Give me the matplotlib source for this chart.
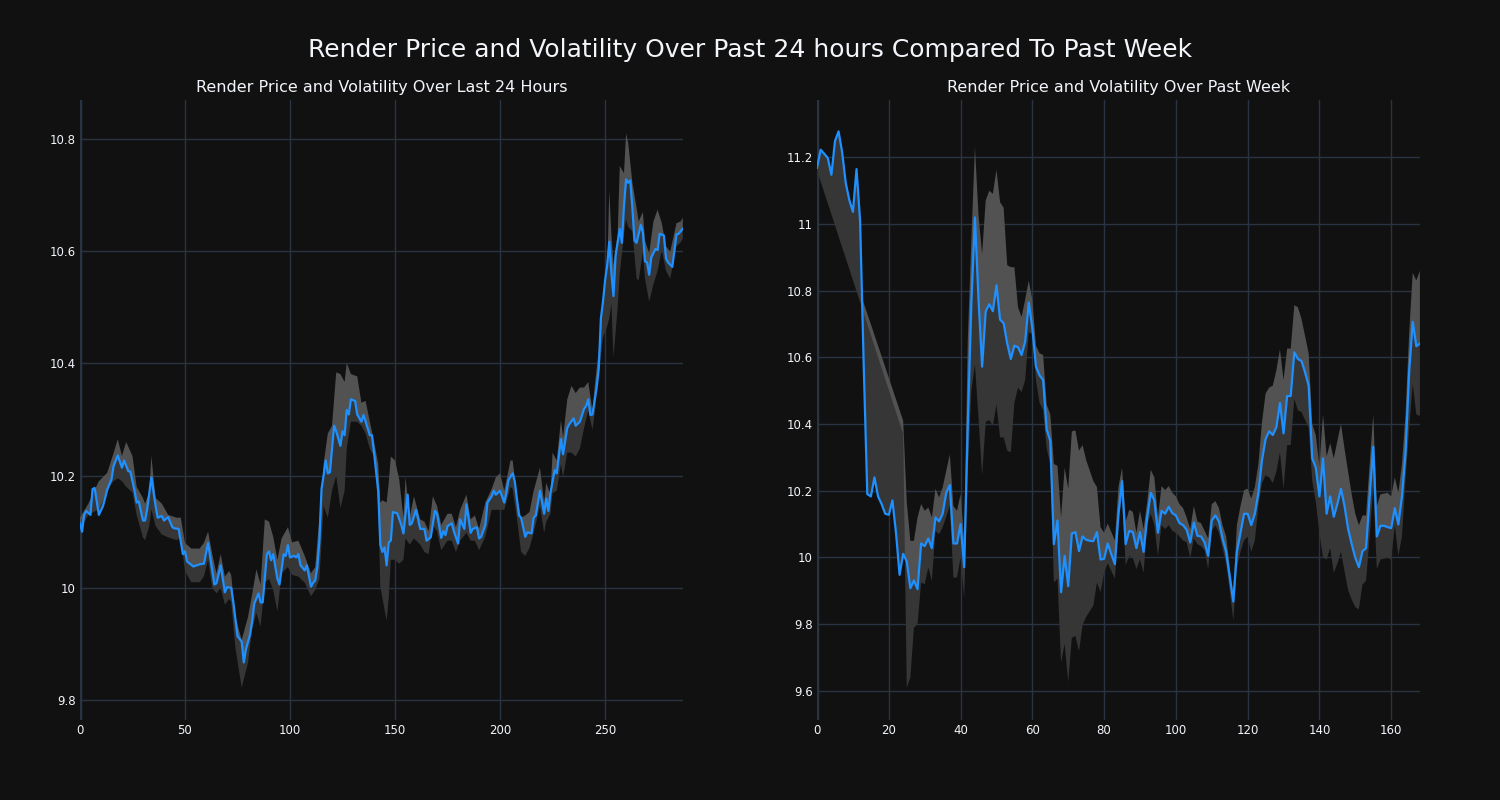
import numpy as np
import matplotlib
matplotlib.use("Agg")
import matplotlib.pyplot as plt
from matplotlib.ticker import FuncFormatter

# ---- last 24 hours (5 min steps) ----
day_x = [0, 1, 2, 3, 5, 6, 7, 9, 11, 13, 15, 16, 18, 20, 21, 23, 24, 26, 27, 28,
         30, 31, 32, 34, 36, 37, 39, 40, 42, 44, 45, 47, 49, 50, 51, 54, 57, 59, 61, 64,
         65, 67, 69, 70, 72, 73, 75, 77, 78, 79, 81, 82, 83, 85, 86, 87, 89, 90, 91, 92,
         94, 95, 97, 98, 99, 100, 102, 103, 104, 105, 107, 108, 110, 111, 112, 113, 114, 115, 116, 117,
         118, 119, 121, 122, 124, 125, 126, 127, 128, 129, 131, 132, 134, 135, 136, 138, 139, 140, 142, 143,
         144, 145, 146, 147, 148, 149, 151, 153, 154, 156, 157, 158, 160, 162, 164, 165, 167, 169, 170, 172,
         173, 174, 175, 177, 178, 180, 181, 183, 184, 186, 187, 189, 190, 191, 193, 194, 196, 197, 198, 200,
         202, 203, 204, 206, 207, 209, 210, 212, 213, 215, 216, 217, 219, 220, 221, 222, 223, 224, 226, 227,
         229, 230, 232, 233, 235, 236, 238, 240, 241, 242, 243, 244, 246, 247, 248, 249, 250, 251, 252, 253,
         254, 255, 257, 258, 259, 260, 261, 262, 263, 264, 265, 267, 268, 269, 270, 271, 272, 274, 275, 276,
         278, 279, 280, 282, 284, 285, 287]
day_price = [10.115, 10.10, 10.13, 10.137, 10.13, 10.176, 10.178, 10.13, 10.146, 10.175, 10.193, 10.217, 10.236, 10.214, 10.227, 10.208, 10.207, 10.173, 10.152, 10.154,
             10.12, 10.12, 10.14, 10.197, 10.146, 10.125, 10.128, 10.12, 10.126, 10.108, 10.106, 10.105, 10.06, 10.065, 10.047, 10.038, 10.042, 10.043, 10.08, 10.006,
             10.008, 10.04, 9.992, 10.001, 10.0, 9.975, 9.914, 9.904, 9.867, 9.89, 9.917, 9.941, 9.972, 9.99, 9.974, 9.974, 10.06, 10.065, 10.049, 10.06,
             10.016, 10.006, 10.06, 10.057, 10.076, 10.054, 10.057, 10.054, 10.06, 10.04, 10.031, 10.04, 10.002, 10.009, 10.013, 10.037, 10.084, 10.176, 10.2, 10.227,
             10.204, 10.206, 10.289, 10.279, 10.253, 10.279, 10.272, 10.317, 10.309, 10.336, 10.333, 10.309, 10.296, 10.308, 10.296, 10.272, 10.272, 10.241, 10.173, 10.077,
             10.064, 10.072, 10.04, 10.081, 10.084, 10.135, 10.133, 10.112, 10.097, 10.166, 10.112, 10.115, 10.139, 10.105, 10.105, 10.084, 10.09, 10.137, 10.132, 10.089,
             10.101, 10.094, 10.11, 10.115, 10.101, 10.079, 10.122, 10.105, 10.149, 10.098, 10.105, 10.108, 10.088, 10.091, 10.112, 10.152, 10.163, 10.173, 10.166, 10.173,
             10.152, 10.169, 10.192, 10.204, 10.19, 10.129, 10.125, 10.091, 10.099, 10.097, 10.125, 10.129, 10.173, 10.152, 10.132, 10.159, 10.137, 10.169, 10.21, 10.204,
             10.265, 10.238, 10.285, 10.292, 10.302, 10.289, 10.296, 10.319, 10.324, 10.336, 10.308, 10.309, 10.357, 10.391, 10.48, 10.51, 10.548, 10.575, 10.617, 10.561,
             10.52, 10.592, 10.64, 10.615, 10.681, 10.728, 10.722, 10.726, 10.677, 10.619, 10.615, 10.647, 10.633, 10.582, 10.58, 10.558, 10.589, 10.604, 10.602, 10.631,
             10.628, 10.587, 10.58, 10.572, 10.63, 10.631, 10.64]

day_band_x = [0, 4, 9, 13, 16, 18, 20, 22, 25, 27, 30, 31, 33, 34, 36, 39, 42, 46, 48, 50,
              53, 57, 59, 61, 63, 65, 67, 69, 71, 72, 74, 77, 80, 82, 84, 86, 88, 90, 92, 94,
              96, 99, 101, 104, 107, 110, 112, 114, 116, 118, 120, 122, 124, 126, 127, 129, 132, 134, 136, 138,
              140, 142, 143, 144, 146, 147, 148, 150, 152, 154, 155, 157, 159, 162, 164, 166, 168, 170, 172, 175,
              177, 179, 181, 184, 186, 188, 190, 193, 196, 198, 200, 202, 205, 206, 208, 210, 212, 214, 216, 219,
              221, 222, 224, 225, 227, 229, 230, 232, 234, 236, 238, 240, 242, 244, 245, 247, 249, 251, 252, 253,
              254, 256, 257, 259, 260, 261, 263, 265, 266, 268, 269, 271, 273, 275, 277, 279, 281, 284, 286, 287]
day_band_hi = [10.125, 10.15, 10.19, 10.205, 10.24, 10.265, 10.235, 10.26, 10.235, 10.18, 10.16, 10.15, 10.17, 10.235, 10.16, 10.15, 10.13, 10.125, 10.125, 10.08,
               10.07, 10.07, 10.08, 10.1, 10.06, 10.025, 10.06, 10.02, 10.03, 10.023, 9.948, 9.907, 9.948, 9.989, 10.033, 10.006, 10.122, 10.118, 10.091, 10.05,
               10.088, 10.108, 10.081, 10.084, 10.057, 10.026, 10.037, 10.125, 10.221, 10.275, 10.289, 10.384, 10.381, 10.367, 10.401, 10.381, 10.377, 10.33, 10.333, 10.296,
               10.261, 10.221, 10.152, 10.156, 10.152, 10.187, 10.234, 10.227, 10.193, 10.125, 10.197, 10.125, 10.163, 10.122, 10.118, 10.101, 10.163, 10.146, 10.112, 10.132,
               10.132, 10.108, 10.139, 10.166, 10.122, 10.129, 10.105, 10.152, 10.176, 10.197, 10.204, 10.173, 10.227, 10.227, 10.166, 10.125, 10.129, 10.135, 10.173, 10.214,
               10.152, 10.187, 10.166, 10.241, 10.227, 10.299, 10.268, 10.336, 10.36, 10.347, 10.357, 10.357, 10.367, 10.316, 10.357, 10.425, 10.48, 10.561, 10.708, 10.63,
               10.575, 10.63, 10.752, 10.739, 10.81, 10.793, 10.722, 10.677, 10.653, 10.67, 10.619, 10.596, 10.653, 10.674, 10.65, 10.609, 10.599, 10.65, 10.653, 10.66]
day_band_lo = [10.105, 10.13, 10.14, 10.175, 10.19, 10.195, 10.19, 10.18, 10.17, 10.13, 10.09, 10.085, 10.11, 10.14, 10.11, 10.095, 10.09, 10.085, 10.09, 10.03,
               10.01, 10.01, 10.02, 10.05, 10.0, 9.99, 10.0, 9.97, 9.98, 9.975, 9.893, 9.822, 9.866, 9.927, 9.955, 9.931, 10.009, 10.016, 9.996, 9.958,
               10.026, 10.037, 10.023, 10.02, 10.009, 9.985, 9.996, 10.016, 10.146, 10.125, 10.173, 10.2, 10.142, 10.173, 10.248, 10.296, 10.296, 10.289, 10.275, 10.248,
               10.234, 10.146, 10.002, 9.982, 9.941, 9.982, 10.05, 10.05, 10.043, 10.05, 10.088, 10.077, 10.088, 10.077, 10.064, 10.06, 10.112, 10.101, 10.067, 10.084,
               10.084, 10.064, 10.084, 10.098, 10.084, 10.084, 10.067, 10.091, 10.139, 10.139, 10.139, 10.139, 10.18, 10.176, 10.125, 10.064, 10.057, 10.071, 10.098, 10.146,
               10.098, 10.118, 10.132, 10.169, 10.173, 10.221, 10.197, 10.241, 10.241, 10.234, 10.248, 10.285, 10.316, 10.282, 10.309, 10.384, 10.446, 10.466, 10.48, 10.507,
               10.411, 10.5, 10.561, 10.63, 10.657, 10.643, 10.636, 10.551, 10.548, 10.599, 10.551, 10.51, 10.541, 10.565, 10.602, 10.565, 10.551, 10.609, 10.616, 10.623]

# ---- past week (hourly, 0..168) ----
week_price = [11.168, 11.222, 11.21, 11.197, 11.147, 11.248, 11.277, 11.214, 11.122, 11.071,
              11.036, 11.164, 11.008, 10.578, 10.19, 10.183, 10.24, 10.183, 10.16, 10.131,
              10.128, 10.171, 10.074, 9.948, 10.011, 9.988, 9.908, 9.931, 9.905, 10.042,
              10.034, 10.057, 10.028, 10.12, 10.108, 10.131, 10.194, 10.217, 10.042, 10.042,
              10.1, 9.971, 10.395, 10.761, 11.019, 10.773, 10.572, 10.738, 10.759, 10.738,
              10.816, 10.713, 10.702, 10.641, 10.595, 10.635, 10.63, 10.607, 10.647, 10.764,
              10.687, 10.572, 10.546, 10.532, 10.383, 10.349, 10.04, 10.111, 9.896, 10.005,
              9.914, 10.072, 10.076, 10.019, 10.063, 10.053, 10.05, 10.049, 10.076, 9.994,
              9.996, 10.042, 10.01, 9.98, 10.131, 10.229, 10.04, 10.08, 10.076, 10.028,
              10.076, 10.017, 10.12, 10.194, 10.171, 10.074, 10.14, 10.131, 10.152, 10.133,
              10.126, 10.103, 10.097, 10.083, 10.045, 10.105, 10.065, 10.063, 10.045, 10.005,
              10.111, 10.126, 10.108, 10.057, 10.017, 9.942, 9.868, 10.017, 10.074, 10.131,
              10.131, 10.097, 10.131, 10.194, 10.292, 10.355, 10.378, 10.367, 10.39, 10.463,
              10.372, 10.484, 10.484, 10.615, 10.595, 10.589, 10.555, 10.515, 10.297, 10.269,
              10.183, 10.297, 10.131, 10.183, 10.122, 10.16, 10.206, 10.154, 10.085, 10.04,
              9.999, 9.971, 10.019, 10.028, 10.183, 10.332, 10.063, 10.095, 10.095, 10.091,
              10.088, 10.148, 10.099, 10.183, 10.315, 10.555, 10.706, 10.633, 10.641]

week_band_x = [0, 24, 25, 26, 27, 28, 29, 30, 31, 32, 33, 34, 35, 37, 38, 39, 40, 41, 42, 43,
               44, 45, 46, 47, 48, 49, 50, 51, 52, 53, 54, 55, 56, 57, 58, 59, 60, 61, 62, 63,
               64, 65, 66, 67, 68, 69, 70, 71, 72, 73, 74, 75, 77, 78, 79, 80, 81, 83, 84, 85,
               86, 87, 88, 89, 90, 91, 92, 93, 94, 95, 96, 97, 98, 99, 100, 101, 102, 103, 104, 105,
               106, 107, 108, 109, 110, 111, 112, 113, 114, 115, 116, 117, 118, 119, 120, 121, 122, 123, 124, 125,
               126, 127, 128, 129, 130, 131, 132, 133, 134, 135, 136, 137, 138, 139, 140, 141, 142, 143, 144, 145,
               146, 147, 148, 149, 150, 151, 152, 153, 154, 155, 156, 157, 159, 160, 161, 162, 163, 164, 165, 166,
               167, 168]
week_band_hi = [11.18, 10.41, 10.166, 10.05, 10.05, 10.12, 10.16, 10.14, 10.15, 10.12, 10.206, 10.18, 10.21, 10.309, 10.154, 10.14, 10.19, 10.05, 10.65, 10.95,
                11.231, 11.025, 10.91, 11.07, 11.099, 11.09, 11.162, 11.065, 11.048, 10.876, 10.87, 10.87, 10.75, 10.721, 10.773, 10.83, 10.773, 10.635, 10.612, 10.607,
                10.458, 10.429, 10.28, 10.275, 10.12, 10.269, 10.206, 10.378, 10.381, 10.32, 10.337, 10.292, 10.229, 10.211, 10.091, 10.074, 10.102, 10.051, 10.211, 10.269,
                10.108, 10.143, 10.137, 10.074, 10.14, 10.085, 10.166, 10.263, 10.24, 10.12, 10.214, 10.202, 10.214, 10.194, 10.183, 10.16, 10.148, 10.12, 10.085, 10.154,
                10.108, 10.103, 10.08, 10.057, 10.16, 10.169, 10.148, 10.097, 10.063, 9.971, 9.891, 10.097, 10.154, 10.202, 10.206, 10.177, 10.211, 10.28, 10.406, 10.492,
                10.509, 10.515, 10.561, 10.624, 10.532, 10.626, 10.626, 10.756, 10.75, 10.715, 10.664, 10.612, 10.4, 10.366, 10.274, 10.429, 10.303, 10.343, 10.297, 10.349,
                10.4, 10.326, 10.257, 10.189, 10.131, 10.097, 10.126, 10.126, 10.28, 10.429, 10.154, 10.189, 10.194, 10.183, 10.24, 10.194, 10.28, 10.429, 10.67, 10.853,
                10.83, 10.859]
week_band_lo = [11.16, 10.37, 9.61, 9.64, 9.79, 9.80, 9.925, 9.92, 9.97, 9.93, 10.08, 10.07, 10.09, 10.155, 9.94, 9.94, 10.0, 9.88, 10.25, 10.5,
                10.578, 10.418, 10.246, 10.406, 10.412, 10.395, 10.458, 10.36, 10.36, 10.32, 10.315, 10.464, 10.509, 10.496, 10.532, 10.675, 10.67, 10.532, 10.464, 10.441,
                10.326, 10.28, 9.925, 9.937, 9.685, 9.742, 9.627, 9.759, 9.765, 9.719, 9.798, 9.822, 9.856, 9.925, 9.896, 9.954, 9.983, 9.937, 10.097, 10.189,
                9.977, 10.005, 9.999, 9.965, 9.994, 9.954, 10.097, 10.131, 10.097, 10.005, 10.097, 10.085, 10.097, 10.08, 10.074, 10.063, 10.051, 10.045, 9.999, 10.057,
                10.04, 10.034, 10.022, 9.965, 10.08, 10.097, 10.074, 10.028, 9.982, 9.902, 9.811, 9.971, 10.017, 10.051, 10.063, 10.017, 10.051, 10.154, 10.223, 10.246,
                10.24, 10.223, 10.257, 10.315, 10.206, 10.337, 10.337, 10.475, 10.441, 10.436, 10.412, 10.389, 10.229, 10.166, 10.074, 10.0, 9.994, 10.028, 9.954, 9.982,
                10.017, 9.959, 9.902, 9.874, 9.851, 9.845, 9.919, 9.93, 10.063, 10.211, 9.965, 9.994, 9.999, 9.994, 10.097, 10.005, 10.063, 10.234, 10.383, 10.521,
                10.429, 10.424]

bg = '#111111'
grid_c = '#283442'
text_c = '#f2f5fa'
line_c = '#1e90ff'

fig = plt.figure(figsize=(15, 8), dpi=100, facecolor=bg)
ax1 = fig.add_axes([0.0533, 0.1, 0.4019, 0.775])
ax2 = fig.add_axes([0.5447, 0.1, 0.4019, 0.775])

fmt = FuncFormatter(lambda v, p: '%g' % round(v, 2))


def draw(ax, x, price, bx, hi, lo, xlim, ylim, xticks, yticks, title):
    ax.set_facecolor(bg)
    x = np.asarray(x, float)
    price = np.asarray(price, float)
    bx = np.asarray(bx, float)
    # area between price and upper bound (light), then price and lower bound (dark) on top
    ax.fill(np.concatenate([x, bx[::-1]]), np.concatenate([price, np.asarray(hi)[::-1]]),
            color='#525252', lw=0, zorder=1)
    ax.fill(np.concatenate([x, bx[::-1]]), np.concatenate([price, np.asarray(lo)[::-1]]),
            color='#363636', lw=0, zorder=1.1)
    ax.plot(x, price, color=line_c, lw=1.6, zorder=3)
    ax.set_xlim(*xlim)
    ax.set_ylim(*ylim)
    ax.set_xticks(xticks)
    ax.set_yticks(yticks)
    ax.yaxis.set_major_formatter(fmt)
    ax.grid(True, color=grid_c, lw=1, zorder=0)
    ax.set_axisbelow(True)
    ax.axvline(0, color=grid_c, lw=2.5, zorder=0.5)
    for s in ax.spines.values():
        s.set_visible(False)
    ax.tick_params(length=0, colors=text_c, labelsize=8.5, pad=3)
    ax.set_title(title, color=text_c, fontsize=11.5, pad=6)


draw(ax1, day_x, day_price, day_band_x, day_band_hi, day_band_lo,
     (0, 287), (9.7644, 10.8695), [0, 50, 100, 150, 200, 250],
     [9.8, 10.0, 10.2, 10.4, 10.6, 10.8],
     'Render Price and Volatility Over Last 24 Hours')
draw(ax2, np.arange(len(week_price)), week_price, week_band_x, week_band_hi, week_band_lo,
     (0, 168), (9.513, 11.371), [0, 20, 40, 60, 80, 100, 120, 140, 160],
     [9.6, 9.8, 10.0, 10.2, 10.4, 10.6, 10.8, 11.0, 11.2],
     'Render Price and Volatility Over Past Week')

fig.suptitle('Render Price and Volatility Over Past 24 hours Compared To Past Week',
             color=text_c, fontsize=18, y=0.9375, va='center')

fig.savefig('out.png', dpi=100, facecolor=bg)
